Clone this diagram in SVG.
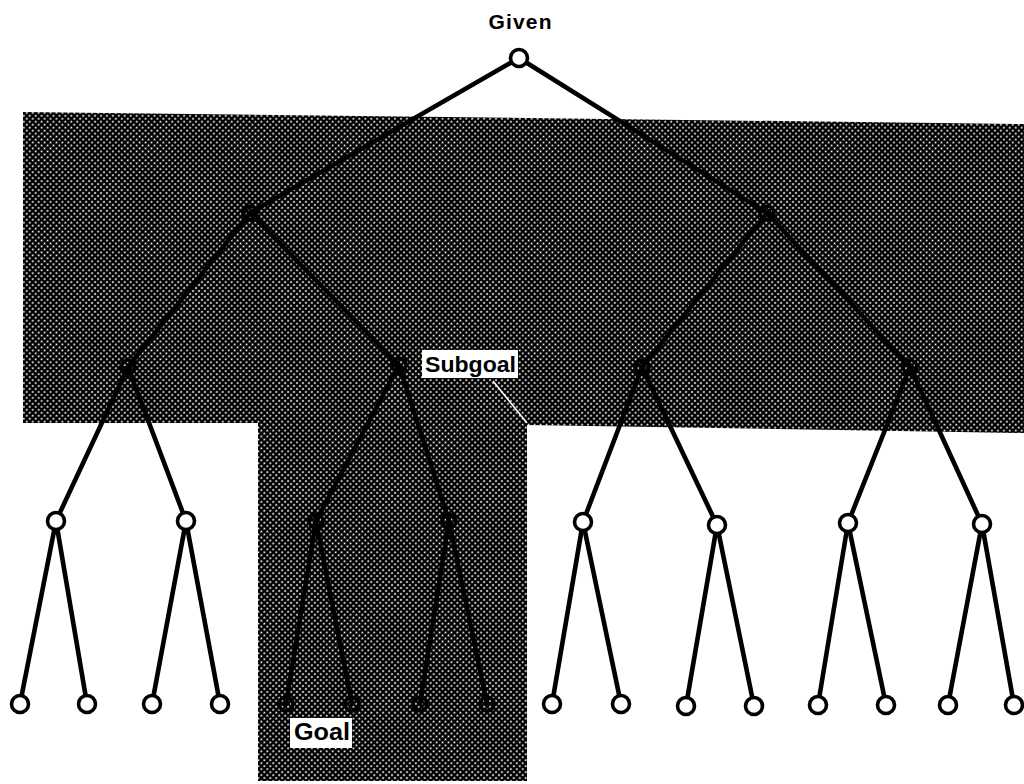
<svg xmlns="http://www.w3.org/2000/svg" width="1024" height="784" viewBox="0 0 1024 784">
<defs>
<pattern id="ht" patternUnits="userSpaceOnUse" width="4.2" height="4.2" patternTransform="rotate(45)">
<rect width="4.2" height="4.2" fill="#000"/>
<circle cx="2.1" cy="2.1" r="0.95" fill="#fff"/>
</pattern>
</defs>
<style>
.e{stroke:#000;stroke-width:4.6;stroke-linecap:round;fill:none}
.n{stroke:#000;stroke-width:3.6;fill:#fff}
.s{stroke:#000;stroke-width:3.6;fill:none}
.lbl{font-family:"Liberation Sans",Arial,sans-serif;font-weight:bold;fill:#000}
</style>
<rect width="1024" height="784" fill="#fff"/>
<polygon id="shade" points="23,112 1024,124 1024,433 527,425 527,781 258,781 258,423 23,423" fill="url(#ht)"/>
<line x1="493" y1="381" x2="527" y2="423" stroke="#fff" stroke-width="1.5"/>
<g id="connectors">
<line class="e" x1="519" y1="58" x2="250" y2="213"/>
<line class="e" x1="519" y1="58" x2="767" y2="213"/>
<line class="e" x1="250" y1="213" x2="128" y2="367"/>
<line class="e" x1="250" y1="213" x2="399" y2="365"/>
<line class="e" x1="767" y1="213" x2="642" y2="367"/>
<line class="e" x1="767" y1="213" x2="910" y2="367"/>
<line class="e" x1="128" y1="367" x2="56" y2="521"/>
<line class="e" x1="128" y1="367" x2="186" y2="521"/>
<line class="e" x1="399" y1="365" x2="316" y2="521"/>
<line class="e" x1="399" y1="365" x2="449" y2="521"/>
<line class="e" x1="642" y1="367" x2="583" y2="522"/>
<line class="e" x1="642" y1="367" x2="717" y2="525"/>
<line class="e" x1="910" y1="367" x2="848" y2="523"/>
<line class="e" x1="910" y1="367" x2="982" y2="524"/>
<line class="e" x1="56" y1="521" x2="20" y2="704"/>
<line class="e" x1="56" y1="521" x2="87" y2="704"/>
<line class="e" x1="186" y1="521" x2="152" y2="704"/>
<line class="e" x1="186" y1="521" x2="220" y2="704"/>
<line class="e" x1="316" y1="521" x2="286" y2="704"/>
<line class="e" x1="316" y1="521" x2="352" y2="704"/>
<line class="e" x1="449" y1="521" x2="420" y2="704"/>
<line class="e" x1="449" y1="521" x2="487" y2="704"/>
<line class="e" x1="583" y1="522" x2="552" y2="704"/>
<line class="e" x1="583" y1="522" x2="621" y2="704"/>
<line class="e" x1="717" y1="525" x2="686" y2="706"/>
<line class="e" x1="717" y1="525" x2="754" y2="706"/>
<line class="e" x1="848" y1="523" x2="818" y2="705"/>
<line class="e" x1="848" y1="523" x2="886" y2="705"/>
<line class="e" x1="982" y1="524" x2="948" y2="705"/>
<line class="e" x1="982" y1="524" x2="1014" y2="705"/>
</g>
<g id="root"><circle class="n" cx="519" cy="58" r="8.5"/><text class="lbl" x="520" y="29" font-size="21" text-anchor="middle" textLength="63" lengthAdjust="spacing">Given</text></g>
<g id="n1a"><circle class="s" cx="250" cy="213" r="7"/></g>
<g id="n1b"><circle class="s" cx="767" cy="213" r="7"/></g>
<g id="n2a"><circle class="s" cx="128" cy="367" r="7"/></g>
<g id="n2b"><circle class="s" cx="399" cy="365" r="7"/></g>
<g id="n2c"><circle class="s" cx="642" cy="367" r="7"/></g>
<g id="n2d"><circle class="s" cx="910" cy="367" r="7"/></g>
<g id="n3a"><circle class="n" cx="56" cy="521" r="8.5"/></g>
<g id="n3b"><circle class="n" cx="186" cy="521" r="8.5"/></g>
<g id="n3c"><circle class="s" cx="316" cy="521" r="7"/></g>
<g id="n3d"><circle class="s" cx="449" cy="521" r="7"/></g>
<g id="n3e"><circle class="n" cx="583" cy="522" r="8.5"/></g>
<g id="n3f"><circle class="n" cx="717" cy="525" r="8.5"/></g>
<g id="n3g"><circle class="n" cx="848" cy="523" r="8.5"/></g>
<g id="n3h"><circle class="n" cx="982" cy="524" r="8.5"/></g>
<g id="l1"><circle class="n" cx="20" cy="704" r="8.5"/></g>
<g id="l2"><circle class="n" cx="87" cy="704" r="8.5"/></g>
<g id="l3"><circle class="n" cx="152" cy="704" r="8.5"/></g>
<g id="l4"><circle class="n" cx="220" cy="704" r="8.5"/></g>
<g id="l5"><circle class="s" cx="286" cy="704" r="7"/></g>
<g id="l6"><circle class="s" cx="352" cy="704" r="7"/></g>
<g id="l7"><circle class="s" cx="420" cy="704" r="7"/></g>
<g id="l8"><circle class="s" cx="487" cy="704" r="7"/></g>
<g id="l9"><circle class="n" cx="552" cy="704" r="8.5"/></g>
<g id="l10"><circle class="n" cx="621" cy="704" r="8.5"/></g>
<g id="l11"><circle class="n" cx="686" cy="706" r="8.5"/></g>
<g id="l12"><circle class="n" cx="754" cy="706" r="8.5"/></g>
<g id="l13"><circle class="n" cx="818" cy="705" r="8.5"/></g>
<g id="l14"><circle class="n" cx="886" cy="705" r="8.5"/></g>
<g id="l15"><circle class="n" cx="948" cy="705" r="8.5"/></g>
<g id="l16"><circle class="n" cx="1014" cy="705" r="8.5"/></g>
<g id="subgoal-label"><rect x="422" y="350" width="96" height="28" fill="#fff"/><text class="lbl" x="425" y="372" font-size="22" textLength="91" lengthAdjust="spacingAndGlyphs">Subgoal</text></g>
<g id="goal-label"><rect x="290" y="718" width="62" height="30" fill="#fff"/><text class="lbl" x="294" y="740" font-size="23" textLength="56" lengthAdjust="spacingAndGlyphs">Goal</text></g>
</svg>
